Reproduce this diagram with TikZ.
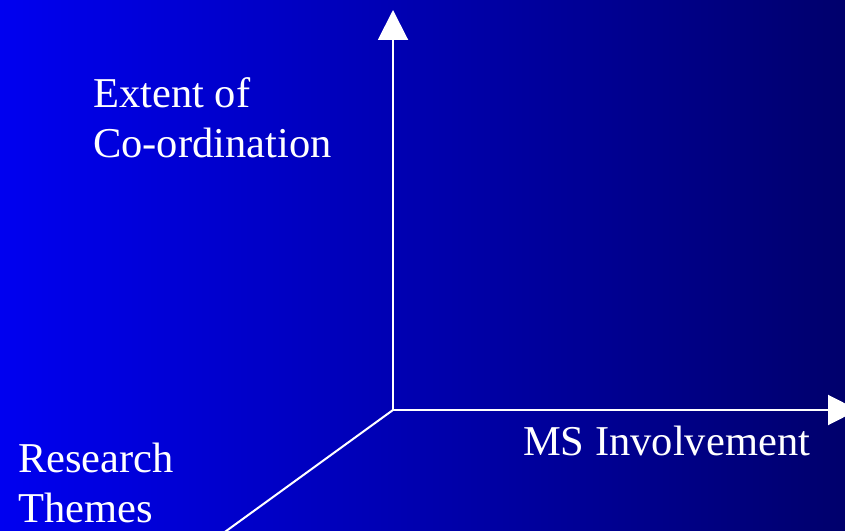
\documentclass[tikz,border=0pt]{standalone}
\usepackage{fontspec}
\setmainfont{Liberation Serif}
\usetikzlibrary{arrows.meta}
\definecolor{bgleft}{RGB}{0,0,240}
\definecolor{bgright}{RGB}{0,0,108}
\begin{document}
\begin{tikzpicture}[x=1pt, y=1pt,
        axis/.style={white, line width=2pt},
        axislabel/.style={white, anchor=base west, align=left, inner sep=0pt,
            font=\fontsize{42.5}{50}\selectfont}]
        \useasboundingbox (0, 0) rectangle (845, 530);
        \shade[left color=bgleft, right color=bgright] (0, 0) rectangle (845, 530);
        \clip (0, 0) rectangle (845, 530);
        \coordinate (o) at (393, 120);
        \coordinate (ztop) at (393, 520);
        \coordinate (xend) at (858, 120);
        \coordinate (yend) at (200, -20);
        \draw[axis, -{Triangle[length=30pt, width=30pt]}] (o) -- (ztop);
        \draw[axis, -{Triangle[length=30pt, width=30pt]}] (o) -- (xend);
        \draw[axis] (o) -- (yend);
        \node[axislabel] (coord) at (93, 372) {Extent of\\Co-ordination};
        \node[axislabel] (themes) at (18, 8) {Research\\Themes};
        \node[axislabel] (ms) at (523, 75) {MS Involvement};
    \end{tikzpicture}
\end{document}
